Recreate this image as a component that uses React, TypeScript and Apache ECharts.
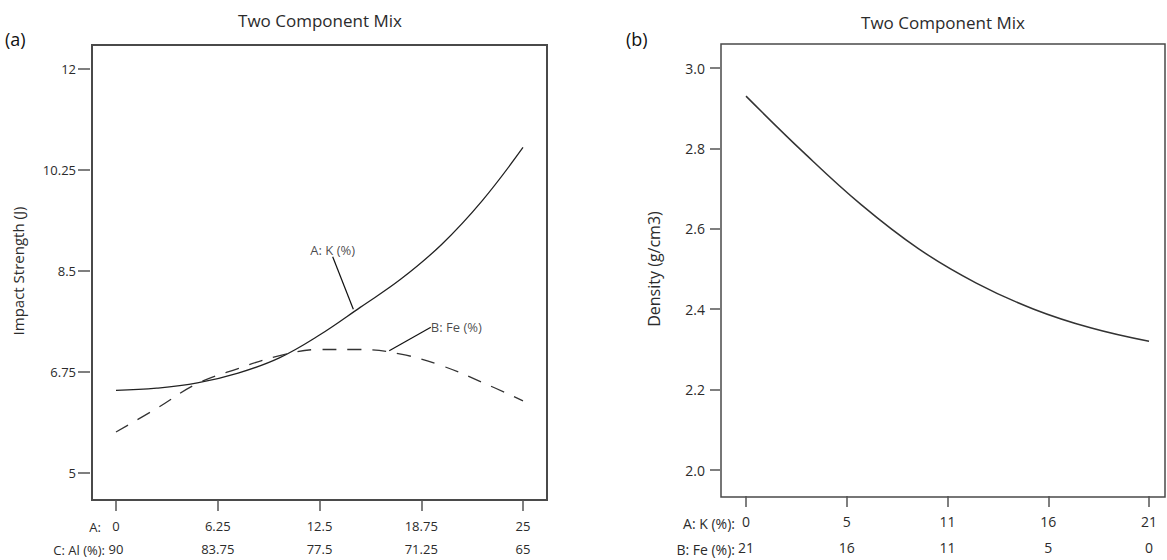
import React, { useEffect, useRef } from "react";
import * as echarts from "echarts";

// ---- Data: panel (a) ----
const A_VALUES = [0, 2.5, 5, 7.5, 10, 12.5, 15, 17.5, 20, 22.5, 25];
const IMPACT_K = [6.43, 6.47, 6.56, 6.73, 6.99, 7.39, 7.87, 8.36, 8.96, 9.72, 10.64];
const IMPACT_FE = [5.71, 6.12, 6.55, 6.81, 7.03, 7.14, 7.14, 7.06, 6.86, 6.57, 6.25];
const A_TICK_LABELS = ["0", "6.25", "12.5", "18.75", "25"];
const C_TICK_LABELS = ["90", "83.75", "77.5", "71.25", "65"];
const K_LABEL_AT = [14.6, 7.82];
const FE_LABEL_AT = [16.73, 7.11];

// ---- Data: panel (b) ----
const K_VALUES = [0, 3, 6, 9, 12, 15, 18, 21];
const DENSITY = [2.93, 2.79, 2.66, 2.55, 2.465, 2.4, 2.353, 2.32];
const K_TICK_LABELS = ["0", "5", "11", "16", "21"];
const FE_TICK_LABELS = ["21", "16", "11", "5", "0"];

const FONT = "'Open Sans', 'Noto Sans', sans-serif";
const TXT = "#2b2b2b";

function zip(xs: number[], ys: number[]) {
  return xs.map((x, i) => [x, ys[i]]);
}

function txt(x: number, y: number, text: string, size: number, align: string, fill = TXT) {
  return {
    type: "text", x, y,
    style: { text, fontSize: size, fontFamily: FONT, fill, align, verticalAlign: "middle", textAlign: align, textVerticalAlign: "middle" },
  };
}

function buildOption() {
  const tick = { show: true, lineStyle: { color: "#555", width: 1.5 } };
  return {
    animation: false,
    backgroundColor: "#fff",
    grid: [
      { left: 92, top: 45, width: 455, height: 455, show: true, borderColor: "#4a4a4a", borderWidth: 2, backgroundColor: "transparent" },
      { left: 116, top: 69, width: 407, height: 406 },
      { left: 721, top: 44, width: 444, height: 453, show: true, borderColor: "#4a4a4a", borderWidth: 1.5, backgroundColor: "transparent" },
      { left: 746, top: 68, width: 403, height: 404 },
    ],
    xAxis: [
      { gridIndex: 0, type: "value", show: false, min: 0, max: 1 },
      {
        gridIndex: 1, type: "value", min: 0, max: 25, interval: 6.25, offset: 27,
        axisLine: { show: false, onZero: false },
        axisTick: { ...tick, length: 11 },
        splitLine: { show: false },
        axisLabel: {
          margin: 14, fontSize: 13, lineHeight: 23, color: TXT, fontFamily: FONT,
          formatter: (v: number) => {
            const i = Math.round(v / 6.25);
            return A_TICK_LABELS[i] + "\n" + C_TICK_LABELS[i];
          },
        },
      },
      { gridIndex: 2, type: "value", show: false, min: 0, max: 1 },
      {
        gridIndex: 3, type: "value", min: 0, max: 21, interval: 5.25, offset: 26,
        axisLine: { show: false, onZero: false },
        axisTick: { ...tick, length: 11 },
        splitLine: { show: false },
        axisLabel: {
          margin: 12, fontSize: 14, lineHeight: 26, color: TXT, fontFamily: FONT,
          formatter: (v: number) => {
            const i = Math.round(v / 5.25);
            return K_TICK_LABELS[i] + "\n" + FE_TICK_LABELS[i];
          },
        },
      },
    ],
    yAxis: [
      { gridIndex: 0, type: "value", show: false, min: 0, max: 1 },
      {
        gridIndex: 1, type: "value", min: 5, max: 12, interval: 1.75, offset: 26,
        axisLine: { show: false, onZero: false },
        axisTick: { ...tick, length: 12 },
        splitLine: { show: false },
        axisLabel: { margin: 14, fontSize: 13, color: TXT, fontFamily: FONT },
        name: "Impact Strength (J)",
        nameLocation: "middle",
        nameGap: 65,
        nameTextStyle: { fontSize: 15, color: TXT, fontFamily: FONT },
      },
      { gridIndex: 2, type: "value", show: false, min: 0, max: 1 },
      {
        gridIndex: 3, type: "value", min: 2, max: 3, interval: 0.2, offset: 26,
        axisLine: { show: false, onZero: false },
        axisTick: { ...tick, length: 10 },
        splitLine: { show: false },
        axisLabel: { margin: 15, fontSize: 14, color: TXT, fontFamily: FONT, formatter: (v: number) => v.toFixed(1) },
        name: "Density (g/cm3)",
        nameLocation: "middle",
        nameGap: 58,
        nameTextStyle: { fontSize: 16, color: TXT, fontFamily: FONT },
      },
    ],
    graphic: [
      txt(320, 20, "Two Component Mix", 17, "center"),
      txt(943, 22, "Two Component Mix", 17, "center"),
      txt(5, 39, "(a)", 18, "left", "#111"),
      txt(626, 39, "(b)", 18, "left", "#111"),
      txt(101, 527, "A:", 13, "right"),
      txt(105, 550, "C: Al (%):", 13, "right"),
      txt(735, 523, "A: K (%):", 14, "right"),
      txt(735, 549, "B: Fe (%):", 14, "right"),
    ],
    series: [
      {
        type: "line", name: "A: K (%)", xAxisIndex: 1, yAxisIndex: 1,
        data: zip(A_VALUES, IMPACT_K), smooth: 0.4, symbol: "none",
        lineStyle: { color: "#222", width: 1.3 },
      },
      {
        type: "line", name: "B: Fe (%)", xAxisIndex: 1, yAxisIndex: 1,
        data: zip(A_VALUES, IMPACT_FE), smooth: 0.4, symbol: "none",
        lineStyle: { color: "#333", width: 1.3, type: [14, 11] },
      },
      {
        type: "scatter", xAxisIndex: 1, yAxisIndex: 1, silent: true,
        data: [K_LABEL_AT], symbolSize: 2, itemStyle: { color: "rgba(0,0,0,0)" },
        label: { show: true, position: "inside", formatter: "A: K (%)", fontSize: 13, color: "#1a1a1a", fontFamily: FONT, textBorderWidth: 0 },
        labelLayout: { dx: -21, dy: -60 },
        labelLine: { show: true, lineStyle: { color: "#111", width: 1.2 } },
      },
      {
        type: "scatter", xAxisIndex: 1, yAxisIndex: 1, silent: true,
        data: [FE_LABEL_AT], symbolSize: 2, itemStyle: { color: "rgba(0,0,0,0)" },
        label: { show: true, position: "inside", formatter: "B: Fe (%)", fontSize: 13, color: "#1a1a1a", fontFamily: FONT, textBorderWidth: 0 },
        labelLayout: { dx: 68, dy: -24 },
        labelLine: { show: true, lineStyle: { color: "#111", width: 1.2 } },
      },
      {
        type: "line", name: "Density", xAxisIndex: 3, yAxisIndex: 3,
        data: zip(K_VALUES, DENSITY), smooth: 0.4, symbol: "none",
        lineStyle: { color: "#333", width: 1.5 },
      },
    ],
  };
}

export default function App() {
  const ref = useRef<HTMLDivElement>(null);
  useEffect(() => {
    if (!ref.current) return;
    const chart = echarts.init(ref.current, null, { renderer: "svg" });
    chart.setOption(buildOption() as any);
    return () => chart.dispose();
  }, []);
  return (
    <div
      ref={ref}
      style={{ position: "fixed", left: 0, top: 0, width: 1167, height: 560, background: "#fff" }}
    />
  );
}
